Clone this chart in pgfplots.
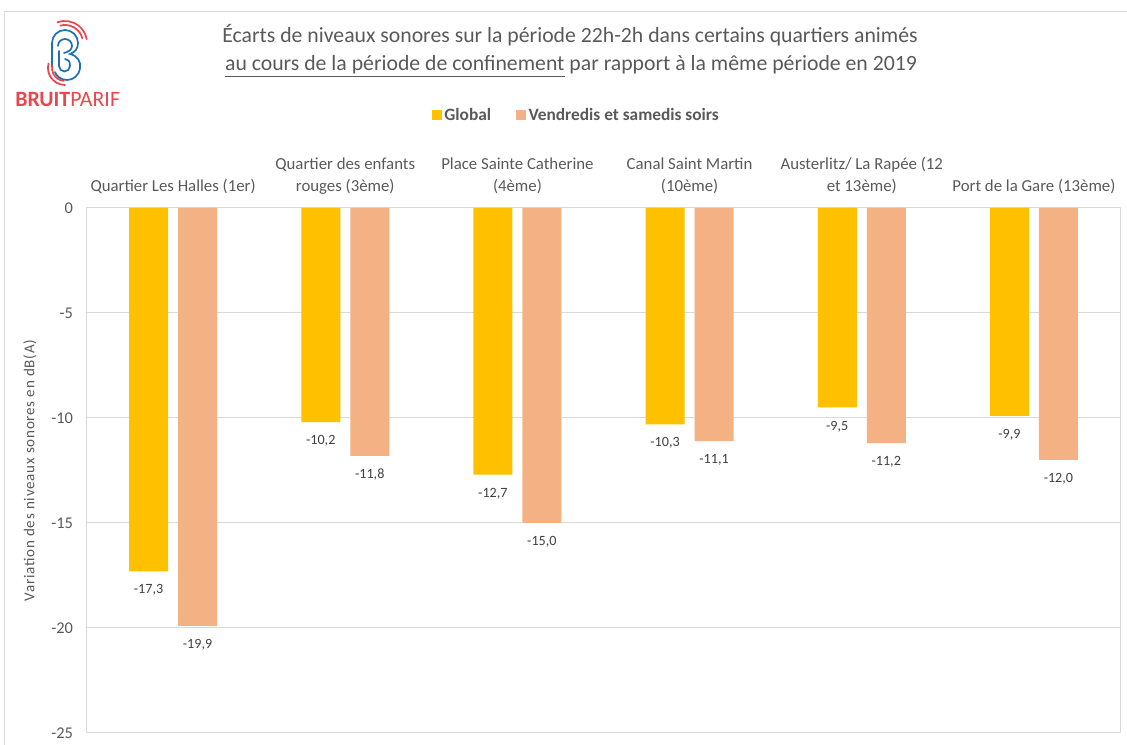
\documentclass[border=0pt]{standalone}
\usepackage{pgfplots}
\pgfplotsset{compat=1.18}
\usepackage{fontspec}
\setmainfont{Carlito}
\newfontfamily\ylabfont[LetterSpace=5]{Carlito}
\definecolor{cglobal}{HTML}{FFC000}
\definecolor{cvs}{HTML}{F4B183}
\definecolor{cgrid}{HTML}{D9D9D9}
\definecolor{ctext}{HTML}{595959}
\definecolor{clab}{HTML}{404040}
\definecolor{cred}{HTML}{E8474D}
\definecolor{cblue}{HTML}{1F72B2}

\begin{document}
\begin{tikzpicture}[x=0.75pt,y=0.75pt]
\useasboundingbox (0,0) rectangle (1127,745);
\draw[cgrid, line width=0.75pt] (4,0) -- (4,733) -- (1127,733);

% logo
\begin{scope}[shift={(0,745)}, yscale=-1, line width=1.3pt, line cap=round]
\draw[cblue] (52,67) -- (52,43) arc[start angle=180,end angle=360,radius=13]
  .. controls (78,49) and (75,52) .. (70,54)
  .. controls (78,56) and (81,62) .. (80,68)
  .. controls (79,76) and (73,80) .. (67,80)
  .. controls (61,80) and (56,76) .. (55,72);
\draw[cblue] (58,46) arc[start angle=180,end angle=360,radius=7]
  .. controls (72,50) and (68,52) .. (64,53);
\draw[cblue] (59,51) -- (59,66) arc[start angle=180,end angle=0,radius=5.5]
  .. controls (70,61) and (68,59) .. (65,59);
\draw[cred] (65,43) ++(255:18) arc[start angle=255,end angle=345,radius=18];
\draw[cred] (65,43) ++(250:22) arc[start angle=250,end angle=350,radius=22];
\draw[cred] (65,68) ++(95:13) arc[start angle=95,end angle=190,radius=13];
\draw[cred] (65,68) ++(90:17) arc[start angle=90,end angle=195,radius=17];
\end{scope}
\node[anchor=base west, inner sep=0pt, text=cred, font=\fontsize{16.4}{19}\selectfont] at (15,638) {\textbf{BRUIT}PARIF};

% title
\node[anchor=base, inner sep=0pt, text=ctext, font=\fontsize{16.3}{19}\selectfont] at (570,702)
  {Écarts de niveaux sonores sur la période 22h-2h dans certains quartiers animés};
\node[anchor=base, inner sep=0pt, text=ctext, font=\fontsize{16.3}{19}\selectfont] at (571,674)
  {\underline{au cours de la période de confinement} par rapport à la même période en 2019};

\begin{axis}[
  at={(65.25pt,9pt)}, anchor=south west,
  scale only axis, width=774.75pt, height=393.75pt,
  ybar=7.5pt, bar width=29.25pt,
  xmin=-0.5, xmax=5.5, ymin=-25, ymax=0,
  xtick={0,1,2,3,4,5},
  xticklabels={{Quartier Les Halles (1er)},{Quartier des enfants\\rouges (3ème)},{Place Sainte Catherine\\(4ème)},{Canal Saint Martin\\(10ème)},{Austerlitz/ La Rapée (12\\et 13ème)},{Port de la Gare (13ème)}},
  xticklabel pos=right,
  x tick label style={align=center, font=\fontsize{12.6}{16.5}\selectfont, text=ctext, yshift=7pt},
  ytick={-25,-20,-15,-10,-5,0},
  y tick label style={font=\fontsize{12.3}{14}\selectfont, text=ctext, xshift=-7pt},
  /pgf/number format/assume math mode=true,
  major tick length=0pt,
  ymajorgrids, grid style={cgrid, line width=0.75pt},
  axis line style={cgrid, line width=0.75pt},
  ylabel={Variation des niveaux sonores en dB(A)},
  ylabel style={at={(axis description cs:-0.0552,0.5)}, anchor=center, font=\ylabfont\fontsize{11.3}{14}\selectfont, text=ctext},
  nodes near coords,
  nodes near coords style={font=\fontsize{10.6}{12}\selectfont, text=clab, anchor=north, yshift=-6.5pt,
    /pgf/number format/.cd, fixed, fixed zerofill, precision=1, use comma, assume math mode=true},
  legend columns=2,
  legend style={at={(axis description cs:0.474,1.177)}, anchor=center, draw=none, fill=none,
    font=\fontsize{13}{14}\selectfont\bfseries, text=ctext,
    /tikz/every even column/.append style={column sep=16.5pt}},
  clip=false,
]
\addplot[fill=cglobal, draw=none, legend image code/.code={\fill[cglobal] (0pt,-3.75pt) rectangle (7.5pt,3.75pt);}]
  coordinates {(0,-17.3) (1,-10.2) (2,-12.7) (3,-10.3) (4,-9.5) (5,-9.9)};
\addlegendentry{Global}
\addplot[fill=cvs, draw=none, legend image code/.code={\fill[cvs] (0pt,-3.75pt) rectangle (7.5pt,3.75pt);}]
  coordinates {(0,-19.9) (1,-11.8) (2,-15.0) (3,-11.1) (4,-11.2) (5,-12.0)};
\addlegendentry{Vendredis et samedis soirs}
\end{axis}
\end{tikzpicture}
\end{document}
